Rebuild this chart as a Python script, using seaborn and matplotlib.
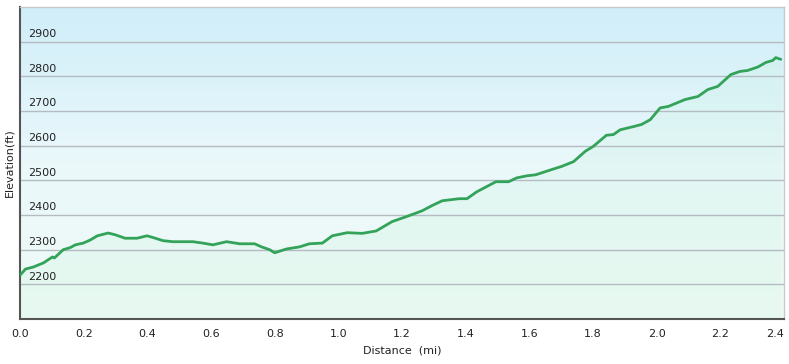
import numpy as np
import pandas as pd
import matplotlib
matplotlib.use("Agg")
import matplotlib.pyplot as plt
import seaborn as sns
from matplotlib.colors import LinearSegmentedColormap
import matplotlib.transforms as mtransforms

distance_mi = [0.000, 0.017, 0.042, 0.074, 0.102, 0.108, 0.136, 0.158, 0.174, 0.199,
               0.221, 0.243, 0.277, 0.299, 0.330, 0.368, 0.399, 0.418, 0.449, 0.480,
               0.543, 0.574, 0.606, 0.649, 0.690, 0.737, 0.759, 0.784, 0.800, 0.837,
               0.878, 0.909, 0.950, 0.981, 1.028, 1.075, 1.119, 1.169, 1.213, 1.263,
               1.294, 1.326, 1.379, 1.404, 1.435, 1.495, 1.535, 1.560, 1.592, 1.620,
               1.670, 1.701, 1.739, 1.776, 1.801, 1.842, 1.864, 1.886, 1.927, 1.952,
               1.980, 2.011, 2.036, 2.089, 2.130, 2.161, 2.192, 2.233, 2.261, 2.286,
               2.318, 2.343, 2.365, 2.374, 2.390]
elevation_ft = [2226, 2244, 2250, 2262, 2279, 2276, 2300, 2306, 2314, 2319,
                2328, 2340, 2348, 2343, 2333, 2333, 2340, 2335, 2326, 2323,
                2323, 2319, 2314, 2323, 2317, 2317, 2308, 2300, 2291, 2302,
                2308, 2317, 2319, 2340, 2349, 2347, 2354, 2381, 2395, 2412,
                2427, 2441, 2447, 2447, 2467, 2496, 2496, 2507, 2513, 2516,
                2531, 2540, 2554, 2584, 2598, 2630, 2632, 2646, 2655, 2661,
                2675, 2709, 2713, 2733, 2742, 2762, 2771, 2805, 2814, 2817,
                2827, 2840, 2846, 2854, 2849]

x_ticks = [0.0, 0.2, 0.4, 0.6, 0.8, 1.0, 1.2, 1.4, 1.6, 1.8, 2.0, 2.2, 2.4]
y_ticks = [2200, 2300, 2400, 2500, 2600, 2700, 2800, 2900]

df = pd.DataFrame({"Distance": distance_mi, "Elevation": elevation_ft})

sns.set_style("white")
plt.rcParams['font.family'] = ['Verdana', 'DejaVu Sans']

W, H = 789, 364
fig = plt.figure(figsize=(W / 100, H / 100), dpi=100)
ax = fig.add_axes([20 / W, (H - 319) / H, (784 - 20) / W, (319 - 7) / H])

# background gradient (top light blue -> bottom pale mint)
bg = LinearSegmentedColormap.from_list("bg", ["#f0fbf5", "#eaf8fb", "#d0eef9"])
grad = np.linspace(0, 1, 256).reshape(-1, 1)
ax.imshow(grad, aspect="auto", cmap=bg, origin="lower",
          extent=[0, 1, 0, 1], transform=ax.transAxes, zorder=0)

ax.set_xlim(0, 2.4)
ax.set_ylim(2100, 3000)

# fill under curve
ax.fill_between(df["Distance"], df["Elevation"], 2100, color="#c6f2dc",
                alpha=0.22, zorder=1, linewidth=0)

# gridlines
for yv in y_ticks:
    ax.axhline(yv, color="#b4bcc2", linewidth=1.0, zorder=2)

sns.lineplot(data=df, x="Distance", y="Elevation", ax=ax, color="#33a35a",
             linewidth=2.0, zorder=3)

ax.set_xticks(x_ticks)
ax.set_xticklabels([f"{v:.1f}" for v in x_ticks], fontsize=8, color="#222222")
ax.get_xticklabels()[-1].set_horizontalalignment("right")
ax.tick_params(axis="x", direction="out", length=4, width=1, color="#444444", pad=3)
ax.set_yticks([])

trans = mtransforms.blended_transform_factory(ax.transAxes, ax.transData)
for yv in y_ticks:
    ax.text(8 / (784 - 20), yv + 22, str(yv), transform=trans, fontsize=8,
            color="#222222", va="center", ha="left", zorder=4)

ax.set_xlabel("Distance  (mi)", fontsize=8, color="#222222", labelpad=5)
ax.set_ylabel("Elevation(ft)", fontsize=8, color="#222222", labelpad=4)

for side in ["left", "bottom"]:
    ax.spines[side].set_color("#555555")
    ax.spines[side].set_linewidth(1.5)
for side in ["top", "right"]:
    ax.spines[side].set_color("#c8c8c8")
    ax.spines[side].set_linewidth(1.0)
    ax.spines[side].set_visible(True)

fig.savefig("out.png", dpi=100)
